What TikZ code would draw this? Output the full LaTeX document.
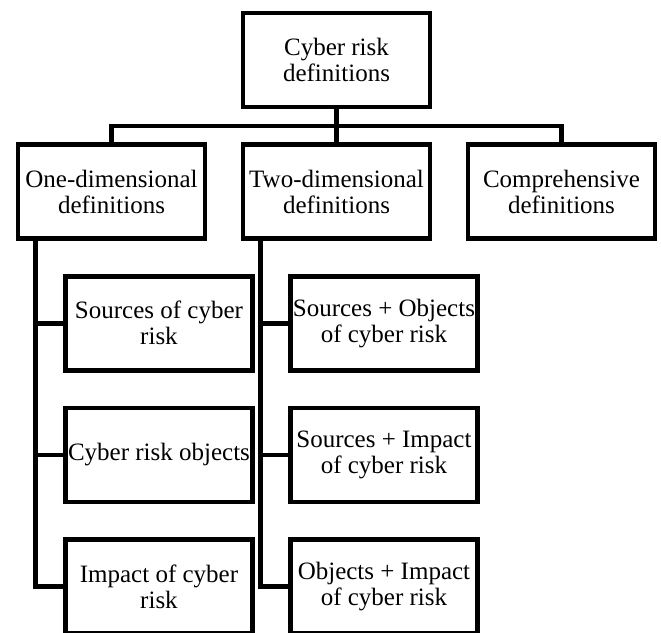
\documentclass[tikz,border=0pt]{standalone}
\usepackage{fontspec}
\setmainfont{Liberation Serif}
\usetikzlibrary{positioning,calc}

\begin{document}
\begin{tikzpicture}[node distance=98.75pt and 168.75pt,on grid,
	box/.style={draw,line width=3.4pt,minimum width=140pt,minimum height=70.5pt,
		inner sep=0pt,align=center,font=\fontsize{18.75}{19.5}\selectfont},
	link/.style={line width=3.4pt}]
	\useasboundingbox (-252.4pt,45pt) rectangle (243.4pt,-429.75pt);
	\node[box] (top) {Cyber risk\\definitions};
	\node[box,below=of top] (two) {Two-dimensional\\definitions};
	\node[box,left=of two] (one) {One-dimensional\\definitions};
	\node[box,right=of two] (comp) {Comprehensive\\definitions};
	\node[box,below right=98.75pt and 35.6pt of one] (src) {Sources of cyber\\risk};
	\node[box,below=of src] (obj) {Cyber risk objects};
	\node[box,below=of obj] (imp) {Impact of cyber\\risk};
	\node[box,below right=98.75pt and 35.6pt of two] (srcobj) {Sources + Objects\\of cyber risk};
	\node[box,below=of srcobj] (srcimp) {Sources + Impact\\of cyber risk};
	\node[box,below=of srcimp] (objimp) {Objects + Impact\\of cyber risk};
	\coordinate (bus) at ($(top.south)!0.5!(two.north)$);
	\coordinate (onetrunk) at ([xshift=14.6pt]one.south west);
	\coordinate (twotrunk) at ([xshift=14.6pt]two.south west);
	\draw[link] (top.south) -- (two.north);
	\draw[link] (one.north) |- (bus) -| (comp.north);
	\draw[link] (onetrunk) |- (imp.west);
	\draw[link] (src.west) -| (onetrunk);
	\draw[link] (obj.west) -| (onetrunk);
	\draw[link] (twotrunk) |- (objimp.west);
	\draw[link] (srcobj.west) -| (twotrunk);
	\draw[link] (srcimp.west) -| (twotrunk);
\end{tikzpicture}
\end{document}
